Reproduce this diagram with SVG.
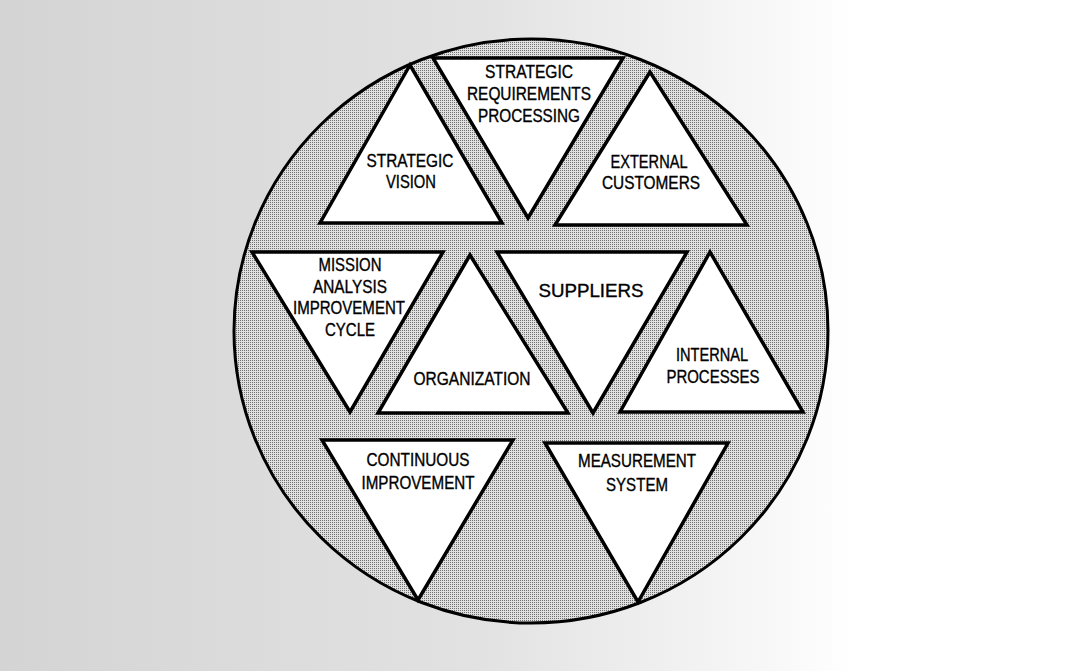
<svg xmlns="http://www.w3.org/2000/svg" width="1069" height="671" viewBox="0 0 1069 671">
<defs>
<linearGradient id="bg" x1="0" y1="0" x2="1" y2="0">
<stop offset="0" stop-color="#d4d4d4"/>
<stop offset="0.45" stop-color="#e2e2e2"/>
<stop offset="0.7" stop-color="#f6f6f6"/>
<stop offset="0.8" stop-color="#ffffff"/>
<stop offset="1" stop-color="#ffffff"/>
</linearGradient>
<pattern id="dots" width="2" height="2" patternUnits="userSpaceOnUse">
<rect width="2" height="2" fill="#e0e0e0"/>
<rect width="1" height="1" fill="#707070"/>
</pattern>
</defs>
<style>
.tri{fill:#ffffff;stroke:#000;stroke-width:3.5;stroke-linejoin:miter}
.lbl{font-family:"Liberation Sans",Arial,sans-serif;font-size:17.5px;fill:#000;stroke:#000;stroke-width:0.35;text-anchor:middle}
</style>
<rect width="1069" height="671" fill="url(#bg)"/>
<ellipse id="circle" cx="531" cy="331" rx="297" ry="292" fill="url(#dots)" stroke="#000" stroke-width="3"/>

<g id="strategic-vision">
<polygon class="tri" points="410,65 320,223 502,223"/>
<text class="lbl" x="410" y="167" textLength="87" lengthAdjust="spacingAndGlyphs">STRATEGIC</text>
<text class="lbl" x="411" y="188" textLength="50" lengthAdjust="spacingAndGlyphs">VISION</text>
</g>
<g id="strategic-requirements-processing">
<polygon class="tri" points="433,58 623,58 528,218"/>
<text class="lbl" x="529" y="78" textLength="88" lengthAdjust="spacingAndGlyphs">STRATEGIC</text>
<text class="lbl" x="529" y="100" textLength="124" lengthAdjust="spacingAndGlyphs">REQUIREMENTS</text>
<text class="lbl" x="529" y="122" textLength="102" lengthAdjust="spacingAndGlyphs">PROCESSING</text>
</g>
<g id="external-customers">
<polygon class="tri" points="650,72 555,225 747,225"/>
<text class="lbl" x="649" y="168" textLength="77" lengthAdjust="spacingAndGlyphs">EXTERNAL</text>
<text class="lbl" x="651" y="189" textLength="98" lengthAdjust="spacingAndGlyphs">CUSTOMERS</text>
</g>
<g id="mission-analysis">
<polygon class="tri" points="252,252 443,252 350,412"/>
<text class="lbl" x="350" y="271" textLength="63" lengthAdjust="spacingAndGlyphs">MISSION</text>
<text class="lbl" x="350" y="293" textLength="74" lengthAdjust="spacingAndGlyphs">ANALYSIS</text>
<text class="lbl" x="349" y="314" textLength="112" lengthAdjust="spacingAndGlyphs">IMPROVEMENT</text>
<text class="lbl" x="350" y="336" textLength="50" lengthAdjust="spacingAndGlyphs">CYCLE</text>
</g>
<g id="organization">
<polygon class="tri" points="470,255 378,413 568,413"/>
<text class="lbl" x="472" y="385" textLength="117" lengthAdjust="spacingAndGlyphs">ORGANIZATION</text>
</g>
<g id="suppliers">
<polygon class="tri" points="497,252 687,252 593,413"/>
<text class="lbl" x="591" y="297" textLength="105" lengthAdjust="spacingAndGlyphs">SUPPLIERS</text>
</g>
<g id="internal-processes">
<polygon class="tri" points="710,252 620,412 803,412"/>
<text class="lbl" x="712" y="361" textLength="72" lengthAdjust="spacingAndGlyphs">INTERNAL</text>
<text class="lbl" x="713" y="383" textLength="93" lengthAdjust="spacingAndGlyphs">PROCESSES</text>
</g>
<g id="continuous-improvement">
<polygon class="tri" points="322,440 513,440 418,600"/>
<text class="lbl" x="418" y="466" textLength="103" lengthAdjust="spacingAndGlyphs">CONTINUOUS</text>
<text class="lbl" x="418" y="489" textLength="113" lengthAdjust="spacingAndGlyphs">IMPROVEMENT</text>
</g>
<g id="measurement-system">
<polygon class="tri" points="545,443 728,443 638,602"/>
<text class="lbl" x="637" y="467" textLength="118" lengthAdjust="spacingAndGlyphs">MEASUREMENT</text>
<text class="lbl" x="637" y="491" textLength="62" lengthAdjust="spacingAndGlyphs">SYSTEM</text>
</g>
</svg>
